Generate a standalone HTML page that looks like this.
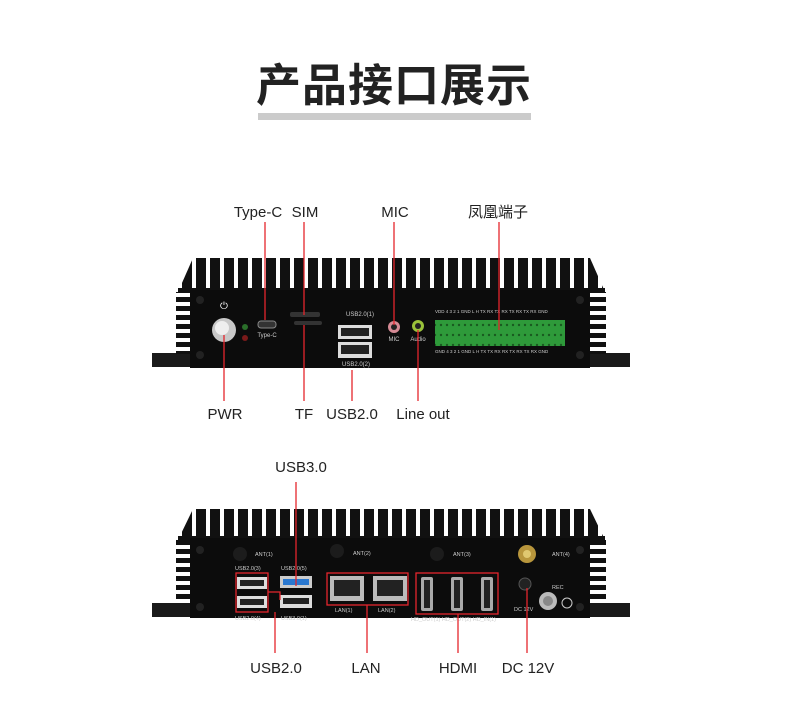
<!DOCTYPE html>
<html><head><meta charset="utf-8"><style>
html,body{margin:0;padding:0;background:#fff;}
svg{display:block;}
text{font-family:"Liberation Sans","Noto Sans CJK SC",sans-serif;}
</style></head><body>
<svg width="788" height="725" viewBox="0 0 788 725" xmlns="http://www.w3.org/2000/svg">
<defs>
<pattern id="fin" x="0" y="0" width="14" height="10" patternUnits="userSpaceOnUse">
<rect width="14" height="10" fill="#fff"/><rect x="0" width="10" height="10" fill="#111"/>
</pattern>
<pattern id="side" x="0" y="0" width="10" height="9" patternUnits="userSpaceOnUse">
<rect width="10" height="9" fill="#fff"/><rect y="0" width="10" height="5" fill="#111"/>
</pattern>
<pattern id="term" x="0" y="0" width="6" height="10" patternUnits="userSpaceOnUse">
<rect width="6" height="10" fill="#2e9a3a"/><circle cx="3" cy="5" r="1.2" fill="#195a20"/>
</pattern>
</defs>
<text x="394" y="101" text-anchor="middle" font-size="45" font-weight="bold" fill="#222" letter-spacing="1">产品接口展示</text>
<rect x="258" y="113" width="273" height="7" fill="#cbcbcb"/>

<!-- TOP DEVICE -->
<g>
<rect x="152" y="353" width="478" height="14" fill="#1a1a1a"/>
<polygon points="178,292 193,258 590,258 605,292" fill="url(#fin)"/>
<rect x="178" y="288" width="427" height="8" fill="#111"/>
<rect x="176" y="292" width="16" height="62" fill="url(#side)"/>
<rect x="590" y="292" width="16" height="62" fill="url(#side)"/>
<rect x="190" y="290" width="400" height="78" fill="#0c0c0c"/>
<circle cx="200" cy="300" r="4" fill="#222"/><circle cx="200" cy="355" r="4" fill="#222"/>
<circle cx="580" cy="300" r="4" fill="#222"/><circle cx="580" cy="355" r="4" fill="#222"/>
<circle cx="224" cy="330" r="12" fill="#c8c8c8"/><circle cx="222" cy="328" r="7" fill="#eee"/>
<text x="224" y="309" font-size="10" fill="#fff" text-anchor="middle">⏻</text>
<circle cx="245" cy="327" r="3" fill="#2a6e2a"/><circle cx="245" cy="338" r="3" fill="#7a1a1a"/>
<rect x="258" y="321" width="18" height="7" rx="3" fill="#333" stroke="#888" stroke-width="1"/>
<text x="267" y="337" font-size="6" fill="#ccc" text-anchor="middle">Type-C</text>
<rect x="290" y="312" width="30" height="5" rx="2" fill="#333"/>
<rect x="294" y="321" width="28" height="4" rx="2" fill="#333"/>
<text x="360" y="316" font-size="6" fill="#ccc" text-anchor="middle">USB2.0(1)</text>
<rect x="338" y="325" width="34" height="14" fill="#ddd"/><rect x="341" y="328" width="28" height="8" fill="#222"/>
<rect x="338" y="342" width="34" height="16" fill="#ddd"/><rect x="341" y="345" width="28" height="9" fill="#222"/>
<text x="356" y="366" font-size="6" fill="#ccc" text-anchor="middle">USB2.0(2)</text>
<circle cx="394" cy="327" r="6" fill="#d58a95"/><circle cx="394" cy="327" r="3" fill="#222"/>
<text x="394" y="341" font-size="6" fill="#ccc" text-anchor="middle">MIC</text>
<circle cx="418" cy="326" r="6" fill="#9ac23a"/><circle cx="418" cy="326" r="3" fill="#222"/>
<text x="418" y="341" font-size="6" fill="#ccc" text-anchor="middle">Audio</text>
<text x="435" y="313" font-size="4.5" fill="#ccc">VDD 4 3 2 1  GND  L H TX RX TX RX TX RX TX RX GND</text>
<rect x="435" y="320" width="130" height="26" fill="url(#term)"/>
<text x="435" y="353" font-size="4.5" fill="#ccc">GND 4 3 2 1  GND  L H TX TX RX RX TX RX TX RX GND</text>
</g>
<g stroke="#e5252d" stroke-width="1.3">
<line x1="265" y1="222" x2="265" y2="320"/>
<line x1="304" y1="222" x2="304" y2="315"/>
<line x1="394" y1="222" x2="394" y2="325"/>
<line x1="499" y1="222" x2="499" y2="330"/>
<line x1="224" y1="335" x2="224" y2="401"/>
<line x1="304" y1="325" x2="304" y2="401"/>
<line x1="352" y1="370" x2="352" y2="401"/>
<line x1="418" y1="330" x2="418" y2="401"/>
</g>
<g font-size="15" fill="#222" text-anchor="middle">
<text x="258" y="217">Type-C</text><text x="305" y="217">SIM</text>
<text x="395" y="217">MIC</text><text x="498" y="217">凤凰端子</text>
<text x="225" y="419">PWR</text><text x="304" y="419">TF</text>
<text x="352" y="419">USB2.0</text><text x="423" y="419">Line out</text>
</g>

<!-- BOTTOM DEVICE -->
<g>
<rect x="152" y="603" width="478" height="14" fill="#1a1a1a"/>
<polygon points="178,540 193,509 590,509 605,540" fill="url(#fin)"/>
<rect x="178" y="536" width="427" height="8" fill="#111"/>
<rect x="176" y="540" width="16" height="62" fill="url(#side)"/>
<rect x="590" y="540" width="16" height="62" fill="url(#side)"/>
<rect x="190" y="538" width="400" height="80" fill="#0c0c0c"/>
<circle cx="200" cy="550" r="4" fill="#222"/><circle cx="200" cy="607" r="4" fill="#222"/>
<circle cx="580" cy="550" r="4" fill="#222"/><circle cx="580" cy="607" r="4" fill="#222"/>
<circle cx="240" cy="554" r="7" fill="#1c1c1c"/><circle cx="337" cy="551" r="7" fill="#1c1c1c"/><circle cx="437" cy="554" r="7" fill="#1c1c1c"/>
<g font-size="5.5" fill="#ccc">
<text x="255" y="556">ANT(1)</text><text x="353" y="555">ANT(2)</text><text x="453" y="556">ANT(3)</text><text x="552" y="556">ANT(4)</text>
<text x="235" y="570">USB2.0(3)</text><text x="281" y="570">USB2.0(5)</text>
<text x="235" y="620">USB2.0(4)</text><text x="281" y="620">USB3.0(1)</text>
<text x="335" y="612">LAN(1)</text><text x="378" y="612">LAN(2)</text>
<text x="411" y="621">HD_OUT(1) HD_OUT(2) HD_IN(1)</text>
<text x="514" y="611">DC 12V</text><text x="552" y="589">REC</text>
</g>
<rect x="237" y="577" width="30" height="12" fill="#ddd"/><rect x="240" y="580" width="24" height="6" fill="#222"/>
<rect x="237" y="596" width="30" height="12" fill="#ddd"/><rect x="240" y="599" width="24" height="6" fill="#222"/>
<rect x="280" y="576" width="32" height="12" fill="#ccc"/><rect x="283" y="579" width="26" height="6" fill="#2a78d0"/>
<rect x="280" y="595" width="32" height="13" fill="#ddd"/><rect x="283" y="598" width="26" height="6" fill="#222"/>
<rect x="330" y="576" width="34" height="25" fill="#bbb"/><rect x="334" y="580" width="26" height="16" fill="#222"/>
<rect x="373" y="576" width="34" height="25" fill="#bbb"/><rect x="377" y="580" width="26" height="16" fill="#222"/>
<rect x="421" y="577" width="12" height="34" rx="2" fill="#aaa"/><rect x="424" y="580" width="6" height="28" fill="#222"/>
<rect x="451" y="577" width="12" height="34" rx="2" fill="#aaa"/><rect x="454" y="580" width="6" height="28" fill="#222"/>
<rect x="481" y="577" width="12" height="34" rx="2" fill="#aaa"/><rect x="484" y="580" width="6" height="28" fill="#222"/>
<circle cx="527" cy="554" r="9" fill="#b8963c"/><circle cx="527" cy="554" r="4" fill="#e0c870"/>
<circle cx="525" cy="584" r="6" fill="#222" stroke="#555"/>
<circle cx="548" cy="601" r="9" fill="#bbb"/><circle cx="548" cy="601" r="5" fill="#888"/>
<circle cx="567" cy="603" r="5" fill="none" stroke="#ccc"/>
</g>
<g stroke="#e5252d" stroke-width="1.3" fill="none">
<rect x="236" y="573" width="32" height="39"/>
<polyline points="268,592 280,592 280,600"/>
<rect x="327" y="573" width="81" height="32"/>
<rect x="416" y="573" width="82" height="41"/>
<line x1="296" y1="482" x2="296" y2="586"/>
<line x1="275" y1="612" x2="275" y2="653"/>
<line x1="367" y1="605" x2="367" y2="653"/>
<line x1="458" y1="614" x2="458" y2="653"/>
<line x1="527" y1="588" x2="527" y2="653"/>
</g>
<g font-size="15" fill="#222" text-anchor="middle">
<text x="301" y="472">USB3.0</text>
<text x="276" y="673">USB2.0</text><text x="366" y="673">LAN</text>
<text x="458" y="673">HDMI</text><text x="528" y="673">DC 12V</text>
</g>
</svg>
</body></html>
